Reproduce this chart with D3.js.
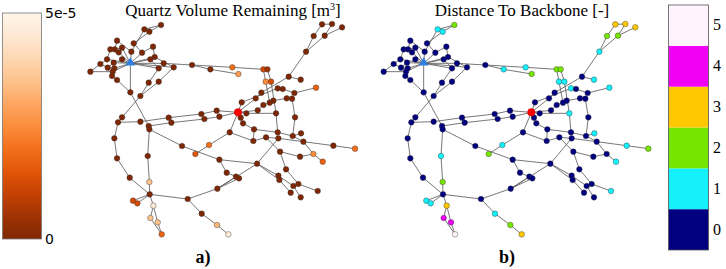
<!DOCTYPE html>
<html>
<head>
<meta charset="utf-8">
<script src="https://cdn.jsdelivr.net/npm/d3@7"></script>
<style>
  body { margin: 0; background: #fff; }
  svg { display: block; }
</style>
</head>
<body>
<svg id="chart" width="726" height="269"></svg>
<script>
// node layout (graph layout units), distance class and quartz volume per node
var nodeX = [251,293,308,343,211,261,191,204,226,216,254,286,319,181,201,226,311,324,161,131,
  183,203,198,196,211,336,351,381,436,491,306,336,251,281,226,214,281,306,308,366,
  374,464,473,510,518,574,599,585,582,203,211,249,309,303,308,259,272,320,311,333,
  345,423,465,511,545,406,446,487,549,518,540,568,577,512,631,589,622,620,658,693,
  695,738,763,770,860,925,700,760,800,828,718,695,698,740,755,732,762,813,826,856,
  886,801,834,778,726,762,808,557,575,650,662,657,673,693,708,743,644,627,680,669,
  650,633,720,736,688,745];
var nodeY = [190,88,95,75,122,130,148,148,143,157,155,158,140,178,188,178,178,171,192,215,
  203,205,215,228,240,205,190,202,195,208,248,245,277,288,352,367,365,378,388,353,
  368,342,357,332,350,337,340,307,353,415,475,533,583,468,546,602,610,617,654,667,
  703,597,641,675,703,438,462,435,397,479,518,530,535,566,491,370,388,423,412,397,
  415,408,400,425,437,446,455,470,462,485,508,527,540,558,552,578,592,573,73,72,
  82,108,107,155,230,239,263,202,222,208,208,245,245,265,267,279,278,295,302,308,
  315,331,295,296,340,352];
var distance = [0,1,1,2,0,0,0,0,0,0,0,0,0,0,0,0,0,0,0,0,
  0,0,0,0,0,0,0,0,0,1,0,0,0,0,0,0,0,0,0,0,
  0,0,0,0,0,0,0,0,0,0,0,0,0,1,2,1,1,3,4,4,
  5,0,1,2,3,0,2,1,0,0,0,0,0,0,0,0,0,0,0,0,
  0,0,1,0,1,2,0,0,0,1,0,0,0,0,0,0,0,1,3,3,
  3,2,2,1,0,1,1,1,2,2,2,1,1,1,0,0,0,0,0,0,
  0,0,0,0,1,0];
var quartz = [0,0,0,0,0,0,0,0,0,0,0,0,0,0,0,0,0,0,0,0,
  0,0,0,0,0,0,0,0,0,0,0,0,0,0,0,0,0,0,0,0,
  0,0,0,0,0,0,0,0,0,0,0,0,0,0,3.5e-5,1.25e-5,1.25e-5,4.5e-5,3.5e-5,3.5e-5,
  1.75e-5,0,0,3.25e-5,4.6e-5,0,1.5e-5,2e-5,0,0,0,0,0,0,0,0,0,0,0,0,
  0,0,0,0,0,2e-5,0,0,2.5e-5,1.75e-5,0,0,0,0,0,0,0,0,0,0,
  0,0,0,0,0,0,1.75e-5,2e-5,2.75e-5,1.25e-5,0.5e-5,2.5e-5,1.25e-5,0,0,0,0,0,0,0,
  0,0,0,0,0,0];
var edges = [[1,3],[2,3],[1,10],[2,5],[4,7],[4,10],[6,7],[7,8],[6,13],[8,9],[9,0],[8,0],
  [10,0],[5,11],[11,0],[11,12],[12,17],[17,0],[16,0],[16,25],[17,27],[13,18],[18,19],
  [19,22],[13,0],[14,0],[15,0],[14,20],[20,21],[21,0],[22,0],[22,23],[23,24],[24,32],
  [0,32],[18,20],[25,30],[30,33],[27,31],[31,33],[0,26],[26,28],[0,27],[28,29],[28,107],
  [107,109],[109,110],[29,108],[109,111],[110,112],[0,25],
  [32,37],[33,34],[34,35],[35,36],[36,39],[39,41],[41,43],[43,45],[37,40],[40,42],
  [42,44],[44,45],[37,38],[35,49],[49,50],[50,51],[51,52],[38,53],[53,54],[54,52],
  [52,55],[52,56],[52,57],[57,58],[57,59],[59,60],[58,60],[52,61],[61,62],[62,63],
  [63,64],[38,65],[65,69],[69,74],[69,70],[70,71],[71,72],[73,71],[73,72],[73,74],
  [61,73],[45,68],[68,67],[67,66],[68,77],
  [45,47],[47,113],[113,114],[114,115],[115,106],[45,117],[117,116],[116,104],[104,103],
  [104,105],[103,101],[103,102],[101,98],[98,99],[102,99],[102,100],[45,121],[121,120],
  [120,119],[119,118],[118,122],[122,123],[123,125],[125,81],[45,46],[46,124],[124,79],
  [111,119],[112,124],[45,48],[48,75],[75,76],[76,79],[76,77],[77,78],[78,80],[74,80],
  [79,81],[81,82],[80,83],[83,84],[84,85],[81,83],[78,86],[86,87],[87,88],[88,89],
  [83,88],[86,90],[74,91],[74,92],[91,93],[92,95],[90,94],[93,96],[94,97],[93,94]];
var sourceNode = 0;   // blue triangle
var sinkNode = 45;    // red node

var distClasses = [0, 1, 2, 3, 4, 5];
var distColors = ["#000080", "#14f0fc", "#76e600", "#ffc800", "#f000f5", "#fff4fd"];
var quartzTicks = ["0", "5e-5"];
var titles = ["Quartz Volume Remaining [m", "Distance To Backbone [-]"];
var panelLabels = ["a)", "b)"];

var svg = d3.select("#chart");

var nodes = nodeX.map(function(x, i) {
  return {x: x, y: nodeY[i], d: distance[i], q: quartz[i]};
});

var x = d3.scaleLinear().domain([0, 960]).range([0, 320]);
var y = d3.scaleLinear().domain([0, 807]).range([0, 269]);

var quartzColor = d3.scaleSequential(function(t) { return d3.interpolateOranges(1 - t); })
  .domain([0, 5e-5]);
var distColor = d3.scaleOrdinal().domain(distClasses).range(distColors);

function drawNetwork(offsetX, colorOf) {
  var g = svg.append("g").attr("transform", "translate(" + offsetX + ",0)");
  g.selectAll("line")
    .data(edges)
    .enter().append("line")
      .attr("x1", function(e) { return x(nodes[e[0]].x); })
      .attr("y1", function(e) { return y(nodes[e[0]].y); })
      .attr("x2", function(e) { return x(nodes[e[1]].x); })
      .attr("y2", function(e) { return y(nodes[e[1]].y); })
      .attr("stroke", "#555")
      .attr("stroke-width", 0.8);
  g.selectAll("circle")
    .data(nodes.filter(function(d, i) { return i !== sourceNode && i !== sinkNode; }))
    .enter().append("circle")
      .attr("cx", function(d) { return x(d.x); })
      .attr("cy", function(d) { return y(d.y); })
      .attr("r", 2.8)
      .attr("fill", colorOf)
      .attr("stroke", "#333")
      .attr("stroke-width", 0.4);
  var s = nodes[sinkNode];
  g.append("circle")
    .attr("cx", x(s.x)).attr("cy", y(s.y))
    .attr("r", 3.8)
    .attr("fill", "#ff0000")
    .attr("stroke", "#b00")
    .attr("stroke-width", 0.4);
  var t = nodes[sourceNode];
  g.append("path")
    .attr("d", d3.symbol().type(d3.symbolTriangle).size(40)())
    .attr("transform", "translate(" + x(t.x) + "," + (y(t.y) - 0.5) + ")")
    .attr("fill", "#2f7fe0");
}

drawNetwork(46.7, function(d) { return quartzColor(d.q); });
drawNetwork(340, function(d) { return distColor(d.d); });

// titles
var t1 = svg.append("text")
  .attr("x", 233).attr("y", 16)
  .attr("text-anchor", "middle")
  .style("font-family", "'Liberation Serif', serif")
  .style("font-size", "17px");
t1.append("tspan").text(titles[0]);
t1.append("tspan").attr("dy", -6).style("font-size", "10px").text("3");
t1.append("tspan").attr("dy", 6).text("]");

svg.append("text")
  .attr("x", 522).attr("y", 16)
  .attr("text-anchor", "middle")
  .style("font-family", "'Liberation Serif', serif")
  .style("font-size", "17px")
  .text(titles[1]);

svg.selectAll(".plabel")
  .data(panelLabels)
  .enter().append("text")
    .attr("class", "plabel")
    .attr("x", function(d, i) { return i === 0 ? 203 : 507; })
    .attr("y", 263)
    .attr("text-anchor", "middle")
    .style("font-family", "'Liberation Serif', serif")
    .style("font-weight", "bold")
    .style("font-size", "18px")
    .text(function(d) { return d; });

// continuous colorbar (left)
var defs = svg.append("defs");
var grad = defs.append("linearGradient")
  .attr("id", "qgrad").attr("x1", 0).attr("y1", 1).attr("x2", 0).attr("y2", 0);
d3.range(0, 1.001, 0.1).forEach(function(t) {
  grad.append("stop")
    .attr("offset", t)
    .attr("stop-color", quartzColor(t * 5e-5));
});
var cbY = d3.scaleLinear().domain([0, 5e-5]).range([239, 13]);
svg.append("rect")
  .attr("x", 2.5).attr("y", cbY(5e-5))
  .attr("width", 39).attr("height", cbY(0) - cbY(5e-5))
  .attr("fill", "url(#qgrad)")
  .attr("stroke", "#777")
  .attr("stroke-width", 0.8);
svg.selectAll(".qtick")
  .data(quartzTicks)
  .enter().append("text")
    .attr("class", "qtick")
    .attr("x", 45)
    .attr("y", function(d) { return cbY(+d) + 5; })
    .style("font-family", "'DejaVu Sans', sans-serif")
    .style("font-size", "14px")
    .text(function(d) { return d; });

// discrete colorbar (right)
var dbY = d3.scaleBand().domain(distClasses.slice().reverse()).range([5, 250]);
svg.selectAll(".dbin")
  .data(distClasses)
  .enter().append("rect")
    .attr("class", "dbin")
    .attr("x", 668.5).attr("y", function(d) { return dbY(d); })
    .attr("width", 40).attr("height", dbY.bandwidth())
    .attr("fill", function(d) { return distColor(d); });
svg.append("rect")
  .attr("x", 668.5).attr("y", 5)
  .attr("width", 40).attr("height", 245)
  .attr("fill", "none")
  .attr("stroke", "#555")
  .attr("stroke-width", 0.8);
svg.selectAll(".dlabel")
  .data(distClasses)
  .enter().append("text")
    .attr("class", "dlabel")
    .attr("x", 713)
    .attr("y", function(d) { return dbY(d) + dbY.bandwidth() / 2 + 5; })
    .style("font-family", "'Liberation Serif', serif")
    .style("font-size", "16px")
    .text(function(d) { return d; });
</script>
</body>
</html>
